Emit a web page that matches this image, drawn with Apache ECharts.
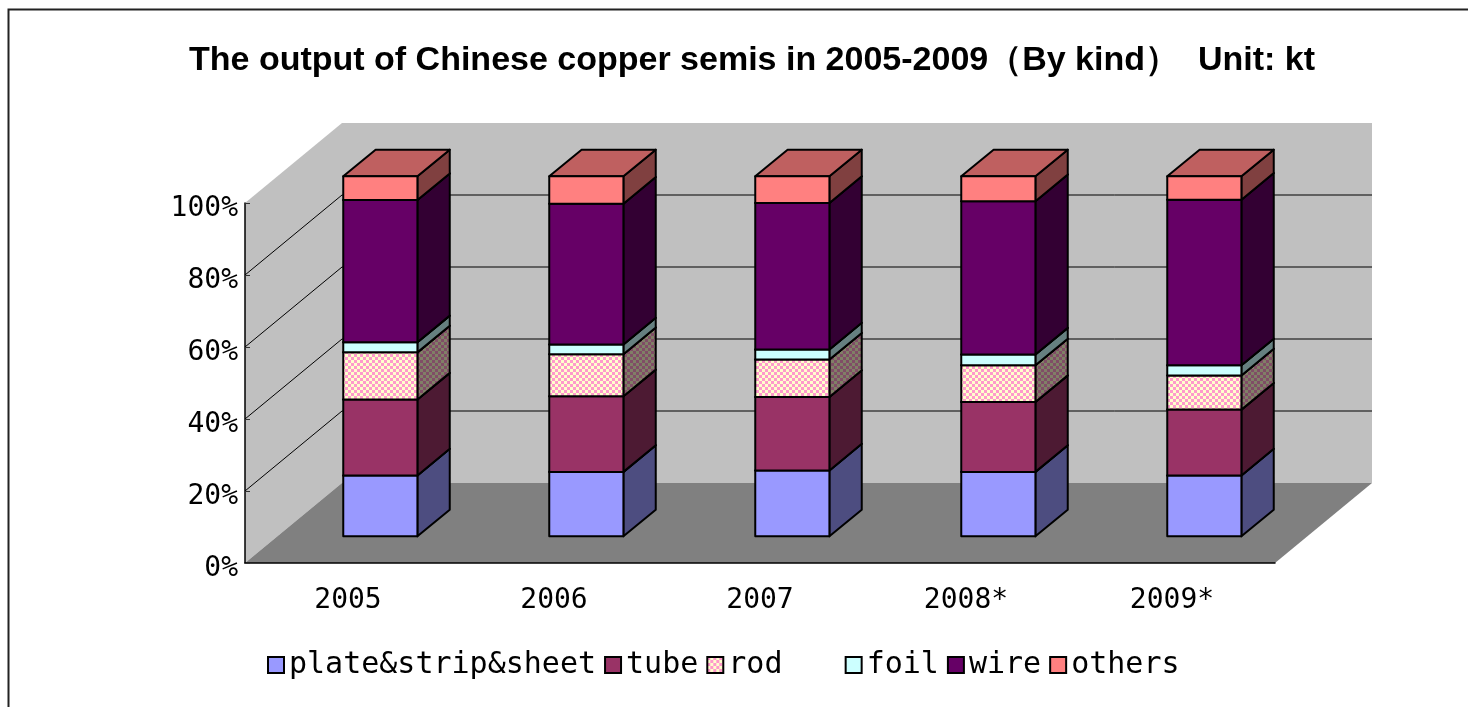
<!DOCTYPE html>
<html>
<head>
<meta charset="utf-8">
<script src="https://cdn.jsdelivr.net/npm/echarts@6/dist/echarts.min.js"></script>
<style>
html,body{margin:0;padding:0;background:#fff;}
#main{width:1468px;height:707px;}
</style>
</head>
<body>
<div id="main"></div>
<script>
// output of Chinese copper semis by kind, share of yearly total (%)
const years = ['2005', '2006', '2007', '2008*', '2009*'];
const plate = [16.9, 17.9, 18.3, 17.9, 16.9];
const tube = [21.1, 21.0, 20.4, 19.4, 18.3];
const rod = [13.1, 11.7, 10.4, 10.2, 9.5];
const foil = [2.8, 2.7, 2.8, 3.0, 2.8];
const wire = [39.5, 39.1, 40.7, 42.6, 46.0];
const others = [6.6, 7.6, 7.4, 6.9, 6.5];
const kindNames = ['plate&strip&sheet', 'tube', 'rod', 'foil', 'wire', 'others'];
const yTicks = [0, 20, 40, 60, 80, 100];

const kindValues = [plate, tube, rod, foil, wire, others];
const kindColors = ['#9999FF', '#993366', 'pattern', '#CCFFFF', '#660066', '#FF8080'];

// 3d depth of the box (walls), bars take the middle third
const DX = 97, DY = -80;
const BAR_RATIO = 0.36;

function shade(hex, f) {
  const n = parseInt(hex.slice(1), 16);
  const r = Math.round(((n >> 16) & 255) * f);
  const g = Math.round(((n >> 8) & 255) * f);
  const b = Math.round((n & 255) * f);
  return 'rgb(' + r + ',' + g + ',' + b + ')';
}
function checker(a, b, s) {
  const c = document.createElement('canvas');
  c.width = c.height = 2 * s;
  const g = c.getContext('2d');
  g.fillStyle = a; g.fillRect(0, 0, 2 * s, 2 * s);
  g.fillStyle = b; g.fillRect(0, 0, s, s); g.fillRect(s, s, s, s);
  return {image: c, repeat: 'repeat'};
}
function faceColors(i) {
  if (kindColors[i] === 'pattern') {
    return {
      front: checker('#FFFFCC', '#FF99CC', 3),
      side: checker(shade('#FFFFCC', 0.5), shade('#FF99CC', 0.5), 3),
      top: checker(shade('#FFFFCC', 0.75), shade('#FF99CC', 0.75), 3)
    };
  }
  return {front: kindColors[i], side: shade(kindColors[i], 0.5), top: shade(kindColors[i], 0.75)};
}

function barRenderer(i) {
  const fc = faceColors(i);
  return function (params, api) {
    const cat = api.value(0), lo = api.value(1), hi = api.value(2);
    const a = api.coord([cat, lo]), b = api.coord([cat, hi]);
    const bw = api.size([1, 0])[0] * BAR_RATIO;
    const ox = DX / 3, oy = DY / 3;
    const xl = a[0] - bw / 2 + ox, xr = xl + bw;
    const yb = a[1] + oy, yt = b[1] + oy;
    const ln = {stroke: '#000', lineWidth: 2, lineJoin: 'round'};
    return {
      type: 'group',
      children: [
        {type: 'polygon', shape: {points: [[xr, yt], [xr + ox, yt + oy], [xr + ox, yb + oy], [xr, yb]]},
          style: Object.assign({fill: fc.side}, ln)},
        {type: 'polygon', shape: {points: [[xl, yt], [xr, yt], [xr + ox, yt + oy], [xl + ox, yt + oy]]},
          style: Object.assign({fill: fc.top}, ln)},
        {type: 'rect', shape: {x: xl, y: yt, width: bw, height: yb - yt},
          style: Object.assign({fill: fc.front}, ln)}
      ]
    };
  };
}

function wallRenderer(params, api) {
  const cs = params.coordSys;
  const x0 = cs.x, x1 = cs.x + cs.width, yt = cs.y, yb = cs.y + cs.height;
  const kids = [
    {type: 'polygon', shape: {points: [[x0 + DX, yt + DY], [x1 + DX, yt + DY], [x1 + DX, yb + DY], [x0 + DX, yb + DY]]},
      style: {fill: '#C0C0C0'}},
    {type: 'polygon', shape: {points: [[x0, yb], [x0, yt], [x0 + DX, yt + DY], [x0 + DX, yb + DY]]},
      style: {fill: '#C0C0C0'}},
    {type: 'polygon', shape: {points: [[x0, yb], [x1, yb], [x1 + DX, yb + DY], [x0 + DX, yb + DY]]},
      style: {fill: '#808080'}}
  ];
  yTicks.forEach(function (v) {
    if (v === 0 || v === 100) return;
    const y = api.coord([0, v])[1];
    kids.push({type: 'line', shape: {x1: x0 + DX, y1: y + DY, x2: x1 + DX, y2: y + DY}, style: {stroke: '#000', lineWidth: 1}});
    kids.push({type: 'line', shape: {x1: x0, y1: y, x2: x0 + DX, y2: y + DY}, style: {stroke: '#000', lineWidth: 1}});
  });
  return {type: 'group', children: kids};
}

const series = [{
  type: 'custom',
  name: 'walls',
  silent: true,
  z: 1,
  renderItem: wallRenderer,
  data: [[0, 0]]
}];
kindNames.forEach(function (name, i) {
  const data = years.map(function (y, c) {
    let lo = 0;
    for (let k = 0; k < i; k++) lo += kindValues[k][c];
    return [c, lo, lo + kindValues[i][c]];
  });
  const fc = faceColors(i);
  series.push({
    type: 'custom',
    name: name,
    z: 2,
    renderItem: barRenderer(i),
    encode: {x: 0, y: [1, 2]},
    itemStyle: {color: fc.front, borderColor: '#000', borderWidth: 1},
    data: data
  });
});

const chart = echarts.init(document.getElementById('main'));
chart.setOption({
  backgroundColor: '#fff',
  animation: false,
  title: {
    text: 'The output of Chinese copper semis in 2005-2009（By kind）  Unit: kt',
    left: 752,
    textAlign: 'center',
    top: 44,
    padding: 0,
    textStyle: {fontFamily: 'Liberation Sans', fontWeight: 'bold', fontSize: 34, color: '#000'}
  },
  graphic: [{
    type: 'rect',
    shape: {x: 8.5, y: 9.5, width: 1600, height: 1000},
    style: {fill: null, stroke: '#222', lineWidth: 2},
    silent: true
  }],
  legend: {
    data: kindNames,
    left: 267,
    top: 650,
    padding: 0,
    icon: 'rect',
    itemWidth: 16,
    itemHeight: 16,
    itemGap: 8,
    formatter: function (n) { return n === 'rod' ? 'rod   ' : n; },
    textStyle: {fontFamily: 'DejaVu Sans Mono', fontSize: 30, color: '#000'}
  },
  grid: {left: 245, top: 203, width: 1030, height: 360, containLabel: false, outerBoundsMode: 'none'},
  xAxis: {
    type: 'category',
    data: years,
    z: 5,
    axisLine: {lineStyle: {color: '#000', width: 1.5}},
    axisTick: {inside: true, length: 5, lineStyle: {color: '#333'}},
    axisLabel: {fontFamily: 'DejaVu Sans Mono', fontSize: 28, color: '#000', margin: 24},
    splitLine: {show: false}
  },
  yAxis: {
    type: 'value',
    min: 0,
    max: 100,
    interval: 20,
    z: 5,
    axisLine: {show: true, lineStyle: {color: '#000', width: 1.5}},
    axisTick: {show: true, inside: true, length: 5, lineStyle: {color: '#333'}},
    axisLabel: {formatter: '{value}%', fontFamily: 'DejaVu Sans Mono', fontSize: 28, color: '#000', margin: 7,
      verticalAlign: 'top', lineHeight: 12},
    splitLine: {show: false}
  },
  series: series
});
</script>
</body>
</html>
